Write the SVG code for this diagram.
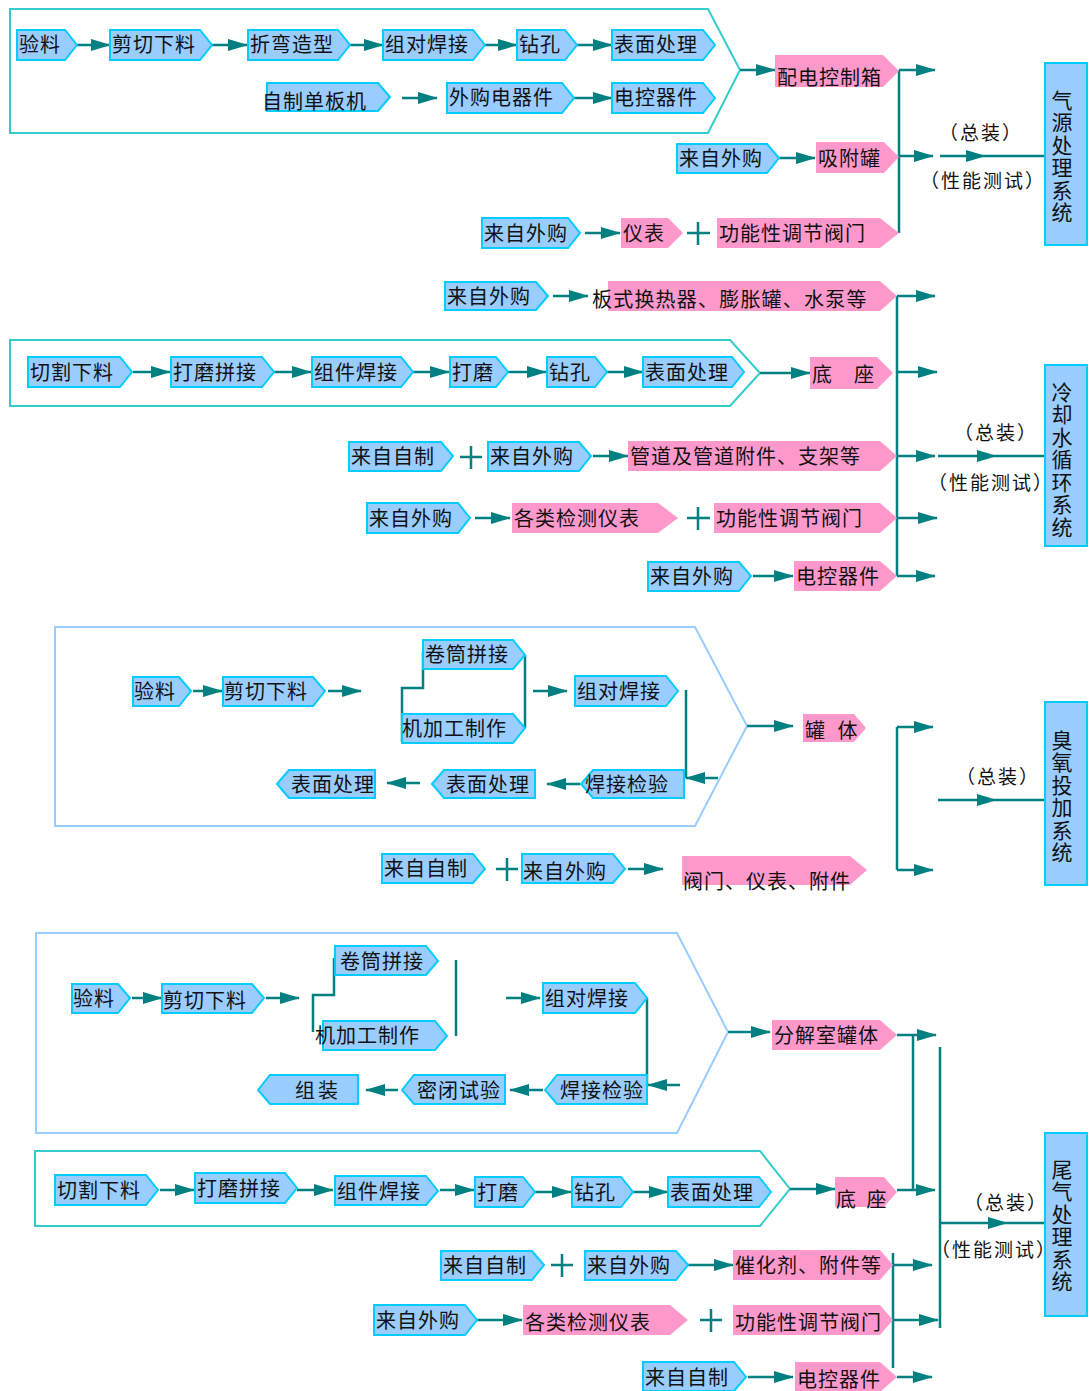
<svg xmlns="http://www.w3.org/2000/svg" width="1090" height="1391" viewBox="0 0 1090 1391">
<style>
.b{fill:#99CCFF;stroke:#00CCFF;stroke-width:2}
.p{fill:#FF99CC}
.t{font-family:"Noto Sans CJK SC","Noto Sans",sans-serif;font-size:20px;fill:#111;letter-spacing:1px}
.l{font-family:"Noto Sans CJK SC","Noto Sans",sans-serif;font-size:19px;fill:#111;text-anchor:middle;text-spacing-trim:space-all;font-feature-settings:"chws" 0,"halt" 0;letter-spacing:2px}
.v{font-family:"Noto Sans CJK SC","Noto Sans",sans-serif;font-size:21px;fill:#111;text-anchor:middle;writing-mode:vertical-rl;letter-spacing:1.5px}
.c{stroke:#008080;stroke-width:2.5;fill:none}
.a{marker-end:url(#ah)}
.pa1{fill:none;stroke:#33CCCC;stroke-width:2}
.pa2{fill:none;stroke:#99CCFF;stroke-width:2}
.sys{fill:#99CCFF;stroke:#00CCFF;stroke-width:2}
</style>
<defs>
<marker id="ah" markerUnits="userSpaceOnUse" markerWidth="20" markerHeight="12" viewBox="0 0 20 12" refX="19" refY="6" orient="auto"><path d="M0,0 L20,6 L0,12 z" fill="#008080"/></marker>
</defs>
<rect width="1090" height="1391" fill="#fff"/>

<!-- panels -->
<g id="panels">
<polygon class="pa1" points="10,9 708,9 740,70 708,133 10,133"/>
<polygon class="pa1" points="10,340 730,340 760,373 730,406 10,406"/>
<polygon class="pa2" points="55,627 695,627 747,726 695,826 55,826"/>
<polygon class="pa2" points="36,933 677,933 728,1032 677,1133 36,1133"/>
<polygon class="pa1" points="35,1151 760,1151 790,1189 760,1226 35,1226"/>
</g>

<!-- connectors -->
<g id="connectors">
<!-- section 1 -->
<path class="c a" d="M77,45 H110"/>
<path class="c a" d="M212,45 H247"/>
<path class="c a" d="M350,45 H383"/>
<path class="c a" d="M485,45 H517"/>
<path class="c a" d="M577,45 H612"/>
<path class="c a" d="M402,98 H437"/>
<path class="c a" d="M574,98 H612"/>
<path class="c a" d="M740,70 H775"/>
<path class="c a" d="M779,158 H815"/>
<path class="c a" d="M585,233 H620"/>
<path class="c" d="M698,222 V245 M687,233 H710"/>
<path class="c" d="M899,70 V233"/>
<path class="c a" d="M899,70 H935"/>
<path class="c a" d="M899,156 H933"/>
<path class="c a" d="M940,156 H985"/>
<path class="c" d="M985,156 H1045"/>
<!-- section 2 -->
<path class="c a" d="M553,296 H588"/>
<path class="c a" d="M133,372 H170"/>
<path class="c a" d="M274,372 H311"/>
<path class="c a" d="M413,372 H449"/>
<path class="c a" d="M508,372 H546"/>
<path class="c a" d="M607,372 H643"/>
<path class="c a" d="M760,373 H810"/>
<path class="c" d="M471,446 V469 M460,457 H482"/>
<path class="c a" d="M593,456 H628"/>
<path class="c a" d="M475,518 H510"/>
<path class="c" d="M698,507 V530 M687,518 H710"/>
<path class="c a" d="M753,576 H793"/>
<path class="c" d="M897,296 V576"/>
<path class="c a" d="M897,296 H935"/>
<path class="c a" d="M897,372 H937"/>
<path class="c a" d="M897,456 H935"/>
<path class="c a" d="M897,518 H937"/>
<path class="c a" d="M897,576 H935"/>
<path class="c a" d="M938,456 H996"/>
<path class="c" d="M996,456 H1045"/>
<!-- section 3 -->
<path class="c a" d="M193,691 H222"/>
<path class="c a" d="M328,691 H361"/>
<path class="c" d="M423,652 V688 H402 V742"/>
<path class="c" d="M525,655 V728"/>
<path class="c a" d="M533,691 H567"/>
<path class="c" d="M686,690 V778"/>
<path class="c a" d="M718,778 H686"/>
<path class="c a" d="M580,784 H547"/>
<path class="c a" d="M420,783 H387"/>
<path class="c a" d="M747,726 H793"/>
<path class="c" d="M507,858 V881 M496,869 H518"/>
<path class="c a" d="M628,869 H663"/>
<path class="c" d="M897,727 V870"/>
<path class="c a" d="M897,727 H933"/>
<path class="c a" d="M897,870 H933"/>
<path class="c a" d="M938,800 H996"/>
<path class="c" d="M996,800 H1045"/>
<!-- section 4 -->
<path class="c a" d="M132,998 H162"/>
<path class="c a" d="M266,998 H299"/>
<path class="c" d="M334,958 V995 H313 V1032"/>
<path class="c" d="M456,960 V1036"/>
<path class="c a" d="M506,998 H540"/>
<path class="c" d="M647,998 V1085"/>
<path class="c a" d="M680,1085 H648"/>
<path class="c a" d="M543,1090 H510"/>
<path class="c a" d="M398,1090 H366"/>
<path class="c a" d="M728,1032 H770"/>
<path class="c" d="M897,1035 H913"/>
<path class="c a" d="M913,1035 H936"/>
<path class="c" d="M913,1035 V1190"/>
<path class="c" d="M940,1047 V1328"/>
<path class="c a" d="M940,1223 H1007"/>
<path class="c" d="M1007,1223 H1045"/>
<path class="c a" d="M160,1190 H194"/>
<path class="c a" d="M297,1190 H333"/>
<path class="c a" d="M440,1190 H474"/>
<path class="c a" d="M535,1192 H571"/>
<path class="c a" d="M633,1192 H668"/>
<path class="c a" d="M790,1189 H835"/>
<path class="c a" d="M897,1190 H935"/>
<path class="c" d="M562,1254 V1277 M551,1265 H573"/>
<path class="c a" d="M688,1265 H733"/>
<path class="c a" d="M477,1320 H522"/>
<path class="c" d="M711,1309 V1332 M700,1320 H722"/>
<path class="c a" d="M748,1377 H793"/>
<path class="c" d="M893,1253 V1368"/>
<path class="c a" d="M893,1265 H932"/>
<path class="c a" d="M893,1320 H938"/>
<path class="c a" d="M897,1377 H932"/>
</g>

<!-- section 1 nodes -->
<g id="n1_1"><polygon class="b" points="17,30 65,30 77,45 65,60 17,60"/><text class="t" x="19" y="52">验料</text></g>
<g id="n1_2"><polygon class="b" points="110,30 200,30 212,45 200,60 110,60"/><text class="t" x="112" y="52">剪切下料</text></g>
<g id="n1_3"><polygon class="b" points="248,30 338,30 350,45 338,60 248,60"/><text class="t" x="250" y="52">折弯造型</text></g>
<g id="n1_4"><polygon class="b" points="383,30 473,30 485,45 473,60 383,60"/><text class="t" x="385" y="52">组对焊接</text></g>
<g id="n1_5"><polygon class="b" points="517,30 565,30 577,45 565,60 517,60"/><text class="t" x="519" y="52">钻孔</text></g>
<g id="n1_6"><polygon class="b" points="612,30 703,30 715,45 703,60 612,60"/><text class="t" x="614" y="52">表面处理</text></g>
<g id="n1_7"><polygon class="b" points="267,83 378,83 390,97 378,111 267,111"/><text class="t" x="262" y="109">自制单板机</text></g>
<g id="n1_8"><polygon class="b" points="447,83 562,83 574,98 562,113 447,113"/><text class="t" x="449" y="105">外购电器件</text></g>
<g id="n1_9"><polygon class="b" points="612,83 703,83 715,98 703,113 612,113"/><text class="t" x="614" y="105">电控器件</text></g>
<g id="n1_10"><polygon class="p" points="775,55 883,55 899,71 883,87 775,87"/><text class="t" x="777" y="85">配电控制箱</text></g>
<g id="n1_11"><polygon class="b" points="677,144 767,144 779,158 767,173 677,173"/><text class="t" x="679" y="166">来自外购</text></g>
<g id="n1_12"><polygon class="p" points="816,142 884,142 899,157 884,173 816,173"/><text class="t" x="818" y="166">吸附罐</text></g>
<g id="n1_13"><polygon class="b" points="482,218 568,218 580,233 568,248 482,248"/><text class="t" x="484" y="241">来自外购</text></g>
<g id="n1_14"><polygon class="p" points="621,218 668,218 683,233 668,248 621,248"/><text class="t" x="623" y="241">仪表</text></g>
<g id="n1_15"><polygon class="p" points="717,218 880,218 899,233 880,248 717,248"/><text class="t" x="719" y="241">功能性调节阀门</text></g>
<g id="lbl1"><text class="l" x="981" y="140">（总装）</text><text class="l" x="983" y="188">（性能测试）</text></g>
<g id="sys1"><rect class="sys" x="1045" y="63" width="42" height="182"/><text class="v" x="1062" y="157">气源处理系统</text></g>

<!-- section 2 nodes -->
<g id="n2_1"><polygon class="b" points="445,282 536,282 548,296 536,310 445,310"/><text class="t" x="447" y="304">来自外购</text></g>
<g id="n2_2"><polygon class="p" points="608,281 880,281 897,296 880,311 608,311"/><text class="t" x="592" y="307" style="letter-spacing:1.2px">板式换热器、膨胀罐、水泵等</text></g>
<g id="n2_3"><polygon class="b" points="28,357 120,357 132,372 120,387 28,387"/><text class="t" x="30" y="380">切割下料</text></g>
<g id="n2_4"><polygon class="b" points="171,357 262,357 274,372 262,387 171,387"/><text class="t" x="173" y="380">打磨拼接</text></g>
<g id="n2_5"><polygon class="b" points="312,357 401,357 413,372 401,387 312,387"/><text class="t" x="314" y="380">组件焊接</text></g>
<g id="n2_6"><polygon class="b" points="450,357 496,357 508,372 496,387 450,387"/><text class="t" x="452" y="380">打磨</text></g>
<g id="n2_7"><polygon class="b" points="547,357 595,357 607,372 595,387 547,387"/><text class="t" x="549" y="380">钻孔</text></g>
<g id="n2_8"><polygon class="b" points="643,357 732,357 744,372 732,387 643,387"/><text class="t" x="645" y="380">表面处理</text></g>
<g id="n2_9"><polygon class="p" points="810,357 877,357 893,373 877,389 810,389"/><text class="t" x="812" y="382">底　座</text></g>
<g id="n2_10"><polygon class="b" points="349,442 441,442 453,456 441,471 349,471"/><text class="t" x="351" y="464">来自自制</text></g>
<g id="n2_11"><polygon class="b" points="488,442 579,442 591,456 579,471 488,471"/><text class="t" x="490" y="464">来自外购</text></g>
<g id="n2_12"><polygon class="p" points="628,441 880,441 897,456 880,471 628,471"/><text class="t" x="630" y="464">管道及管道附件、支架等</text></g>
<g id="n2_13"><polygon class="b" points="367,503 458,503 470,518 458,533 367,533"/><text class="t" x="369" y="526">来自外购</text></g>
<g id="n2_14"><polygon class="p" points="512,503 658,503 678,518 658,533 512,533"/><text class="t" x="514" y="526">各类检测仪表</text></g>
<g id="n2_15"><polygon class="p" points="714,503 880,503 897,518 880,533 714,533"/><text class="t" x="716" y="526">功能性调节阀门</text></g>
<g id="n2_16"><polygon class="b" points="648,562 739,562 751,576 739,591 648,591"/><text class="t" x="650" y="584">来自外购</text></g>
<g id="n2_17"><polygon class="p" points="794,561 880,561 897,576 880,591 794,591"/><text class="t" x="796" y="584">电控器件</text></g>
<g id="lbl2"><text class="l" x="996" y="440">（总装）</text><text class="l" x="991" y="490">（性能测试）</text></g>
<g id="sys2"><rect class="sys" x="1045" y="365" width="42" height="181"/><text class="v" x="1062" y="460">冷却水循环系统</text></g>

<!-- section 3 nodes -->
<g id="n3_1"><polygon class="b" points="133,677 179,677 191,691 179,706 133,706"/><text class="t" x="134" y="699">验料</text></g>
<g id="n3_2"><polygon class="b" points="223,677 313,677 325,691 313,706 223,706"/><text class="t" x="224" y="699">剪切下料</text></g>
<g id="n3_3"><polygon class="b" points="423,640 513,640 525,655 513,669 423,669"/><text class="t" x="425" y="662">卷筒拼接</text></g>
<g id="n3_4"><polygon class="b" points="402,714 513,714 525,728 513,743 402,743"/><text class="t" x="402" y="736">机加工制作</text></g>
<g id="n3_5"><polygon class="b" points="575,676 666,676 678,691 666,706 575,706"/><text class="t" x="577" y="699">组对焊接</text></g>
<g id="n3_6"><polygon class="b" points="581,784 593,770 684,770 684,798 593,798"/><text class="t" x="585" y="792">焊接检验</text></g>
<g id="n3_7"><polygon class="b" points="432,784 444,770 535,770 535,798 444,798"/><text class="t" x="446" y="792">表面处理</text></g>
<g id="n3_8"><polygon class="b" points="277,784 289,770 375,770 375,798 289,798"/><text class="t" x="291" y="792">表面处理</text></g>
<g id="n3_9"><polygon class="p" points="803,714 854,714 866,728 854,742 803,742"/><text class="t" x="805" y="738" style="word-spacing:6px">罐 体</text></g>
<g id="n3_10"><polygon class="b" points="382,854 473,854 485,869 473,883 382,883"/><text class="t" x="384" y="876">来自自制</text></g>
<g id="n3_11"><polygon class="b" points="522,854 613,854 625,869 613,883 522,883"/><text class="t" x="523" y="879">来自外购</text></g>
<g id="n3_12"><polygon class="p" points="682,856 850,856 867,870 850,885 682,885"/><text class="t" x="683" y="889">阀门、仪表、附件</text></g>
<g id="lbl3"><text class="l" x="998" y="784">（总装）</text></g>
<g id="sys3"><rect class="sys" x="1045" y="702" width="42" height="183"/><text class="v" x="1062" y="797">臭氧投加系统</text></g>

<!-- section 4 nodes -->
<g id="n4_1"><polygon class="b" points="72,984 118,984 130,998 118,1013 72,1013"/><text class="t" x="73" y="1006">验料</text></g>
<g id="n4_2"><polygon class="b" points="162,984 252,984 264,998 252,1013 162,1013"/><text class="t" x="163" y="1008">剪切下料</text></g>
<g id="n4_3"><polygon class="b" points="335,946 426,946 438,961 426,975 335,975"/><text class="t" x="340" y="969">卷筒拼接</text></g>
<g id="n4_4"><polygon class="b" points="323,1021 435,1021 447,1036 435,1050 323,1050"/><text class="t" x="315" y="1043">机加工制作</text></g>
<g id="n4_5"><polygon class="b" points="543,983 635,983 647,998 635,1013 543,1013"/><text class="t" x="545" y="1006">组对焊接</text></g>
<g id="n4_6"><polygon class="b" points="545,1090 557,1075 647,1075 647,1104 557,1104"/><text class="t" x="560" y="1098">焊接检验</text></g>
<g id="n4_7"><polygon class="b" points="402,1090 414,1075 505,1075 505,1104 414,1104"/><text class="t" x="417" y="1098">密闭试验</text></g>
<g id="n4_8"><polygon class="b" points="258,1090 270,1075 358,1075 358,1104 270,1104"/><text class="t" x="295" y="1098" style="letter-spacing:3px">组装</text></g>
<g id="n4_9"><polygon class="p" points="772,1020 880,1020 897,1035 880,1050 772,1050"/><text class="t" x="774" y="1043">分解室罐体</text></g>
<g id="n4_10"><polygon class="b" points="55,1175 146,1175 158,1190 146,1205 55,1205"/><text class="t" x="57" y="1198">切割下料</text></g>
<g id="n4_11"><polygon class="b" points="195,1173 285,1173 297,1188 285,1203 195,1203"/><text class="t" x="197" y="1196">打磨拼接</text></g>
<g id="n4_12"><polygon class="b" points="335,1176 426,1176 438,1191 426,1205 335,1205"/><text class="t" x="337" y="1199">组件焊接</text></g>
<g id="n4_13"><polygon class="b" points="475,1177 523,1177 535,1192 523,1207 475,1207"/><text class="t" x="477" y="1200">打磨</text></g>
<g id="n4_14"><polygon class="b" points="572,1177 621,1177 633,1192 621,1207 572,1207"/><text class="t" x="574" y="1200">钻孔</text></g>
<g id="n4_15"><polygon class="b" points="668,1177 759,1177 771,1192 759,1207 668,1207"/><text class="t" x="670" y="1200">表面处理</text></g>
<g id="n4_16"><polygon class="p" points="835,1177 884,1177 897,1192 884,1207 835,1207"/><text class="t" x="836" y="1207" style="word-spacing:4px">底 座</text></g>
<g id="n4_17"><polygon class="b" points="441,1251 532,1251 544,1265 532,1280 441,1280"/><text class="t" x="443" y="1273">来自自制</text></g>
<g id="n4_18"><polygon class="b" points="585,1251 676,1251 688,1265 676,1280 585,1280"/><text class="t" x="587" y="1273">来自外购</text></g>
<g id="n4_19"><polygon class="p" points="733,1250 880,1250 893,1265 880,1280 733,1280"/><text class="t" x="735" y="1273">催化剂、附件等</text></g>
<g id="n4_20"><polygon class="b" points="374,1305 465,1305 477,1320 465,1335 374,1335"/><text class="t" x="376" y="1328">来自外购</text></g>
<g id="n4_21"><polygon class="p" points="523,1305 670,1305 688,1320 670,1335 523,1335"/><text class="t" x="525" y="1330">各类检测仪表</text></g>
<g id="n4_22"><polygon class="p" points="733,1305 880,1305 893,1320 880,1335 733,1335"/><text class="t" x="735" y="1330">功能性调节阀门</text></g>
<g id="n4_23"><polygon class="b" points="643,1362 734,1362 746,1377 734,1391 643,1391"/><text class="t" x="645" y="1385">来自自制</text></g>
<g id="n4_24"><polygon class="p" points="795,1362 880,1362 897,1377 880,1392 795,1392"/><text class="t" x="797" y="1387">电控器件</text></g>
<g id="lbl4"><text class="l" x="1006" y="1210">（总装）</text><text class="l" x="994" y="1257">（性能测试）</text></g>
<g id="sys4"><rect class="sys" x="1045" y="1133" width="42" height="183"/><text class="v" x="1062" y="1226">尾气处理系统</text></g>
</svg>
